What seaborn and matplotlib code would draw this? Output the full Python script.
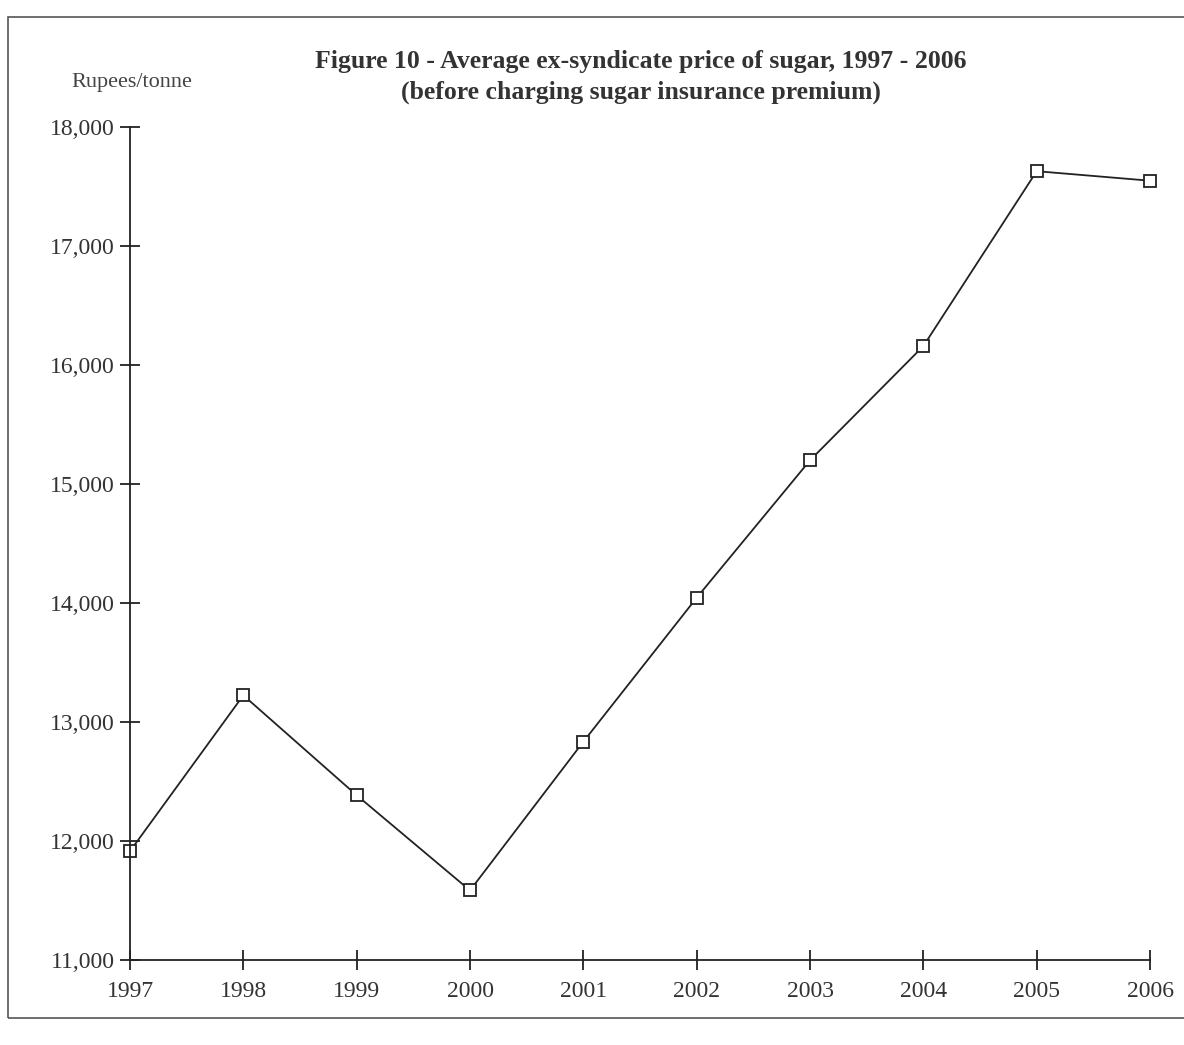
import seaborn as sns
import matplotlib.pyplot as plt
import pandas as pd
from matplotlib.patches import Rectangle
from matplotlib.ticker import FuncFormatter

# Данные (рупии за тонну)
years = [1997, 1998, 1999, 2000, 2001, 2002, 2003, 2004, 2005, 2006]
prices = [11915, 13225, 12385, 11585, 12835, 14045, 15200, 16160, 17630, 17550]
y_ticks = [11000, 12000, 13000, 14000, 15000, 16000, 17000, 18000]

df = pd.DataFrame({"year": years, "price": prices})

sns.set_style("ticks")
plt.rcParams["font.family"] = ["Liberation Serif", "DejaVu Serif"]

fig = plt.figure(figsize=(11.84, 10.45), dpi=100)
ax = fig.add_axes([0.1098, 0.0813, 0.8615, 0.797])

sns.lineplot(data=df, x="year", y="price", ax=ax, color="#222222", linewidth=1.3,
             marker="s", markersize=9, markerfacecolor="white",
             markeredgecolor="#222222", markeredgewidth=1.3)
for ln in ax.lines:
    ln.set_clip_on(False)

ax.set_xlim(1997, 2006)
ax.set_ylim(11000, 18000)
ax.set_xticks(years)
ax.set_yticks(y_ticks)
ax.yaxis.set_major_formatter(FuncFormatter(lambda v, p: f"{int(v):,}"))
ax.set_xlabel("")
ax.set_ylabel("")

sns.despine(ax=ax)
for s in ["left", "bottom"]:
    ax.spines[s].set_linewidth(1.3)
    ax.spines[s].set_color("#222222")
ax.tick_params(axis="both", direction="inout", length=14, width=1.3,
               colors="#222222", labelsize=17, labelcolor="#333333")
ax.tick_params(axis="x", pad=8)
ax.tick_params(axis="y", pad=4)

fig.text(0.541, 0.941, "Figure 10 - Average ex-syndicate price of sugar, 1997 - 2006",
         ha="center", va="center", fontsize=18.5, fontweight="bold", color="#333333")
fig.text(0.541, 0.912, "(before charging sugar insurance premium)",
         ha="center", va="center", fontsize=18.5, fontweight="bold", color="#333333")
fig.text(0.111, 0.921, "Rupees/tonne", ha="center", va="center",
         fontsize=16, color="#444444")

# рамка страницы
fig.patches.append(Rectangle((0.007, 0.026), 1.1, 0.958, transform=fig.transFigure,
                             fill=False, edgecolor="#555555", linewidth=1.2))

fig.savefig("out.png", dpi=100, facecolor="white")
